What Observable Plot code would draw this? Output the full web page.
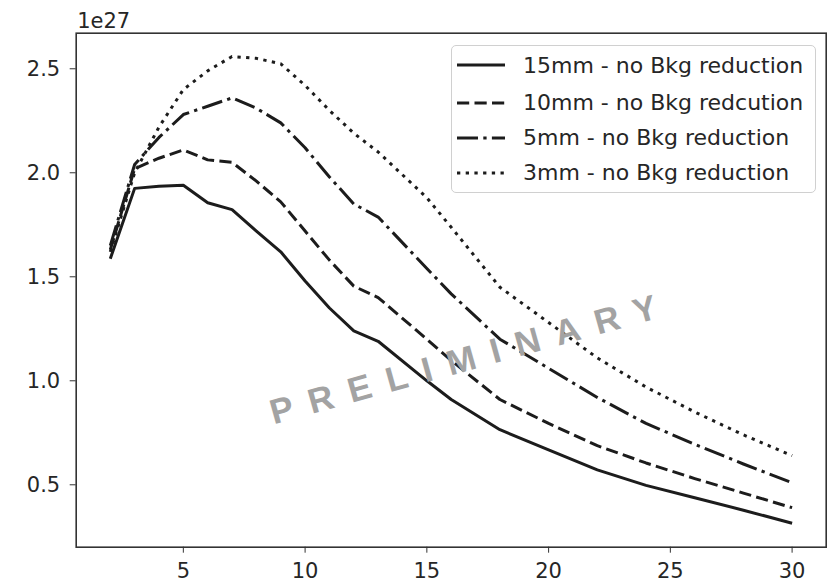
<!DOCTYPE html>
<html>
<head>
<meta charset="utf-8">
<script src="https://cdn.jsdelivr.net/npm/d3@7"></script>
<script src="https://cdn.jsdelivr.net/npm/@observablehq/plot@0.6"></script>
<style>
  html, body { margin: 0; padding: 0; background: #fff; }
  #wrap { position: relative; width: 829px; height: 585px; font-family: "DejaVu Sans", sans-serif; color: #262626; }
  .legend { position: absolute; left: 451px; top: 45px; width: 363px; height: 146px;
            border: 1px solid #d0d0d0; border-radius: 5px; background: rgba(255,255,255,0.85); }
  .legend .row { position: absolute; left: 0; height: 30px; display: flex; align-items: center; }
  .legend svg { margin-left: 5px; width: 48px; height: 10px; }
  .legend span { margin-left: 18px; font-size: 22px; white-space: nowrap; }
</style>
</head>
<body>
<div id="wrap"></div>
<script>
// Slit width scan: signal vs. distance, four collimator settings (units of 1e27)
const distance = [2, 3, 4, 5, 6, 7, 8, 9, 10, 11, 12, 13, 15, 16, 18, 20, 22, 24, 26, 28, 30];
const mm15 = [1.587, 1.925, 1.935, 1.940, 1.856, 1.823, 1.720, 1.620, 1.480, 1.350, 1.240, 1.190, 1.000, 0.910, 0.765, 0.668, 0.572, 0.497, 0.438, 0.378, 0.315];
const mm10 = [1.630, 2.020, 2.070, 2.110, 2.062, 2.050, 1.960, 1.860, 1.720, 1.580, 1.455, 1.400, 1.200, 1.098, 0.910, 0.795, 0.688, 0.605, 0.530, 0.460, 0.390];
const mm5  = [1.650, 2.040, 2.170, 2.280, 2.320, 2.360, 2.310, 2.240, 2.120, 1.980, 1.850, 1.787, 1.540, 1.418, 1.200, 1.060, 0.920, 0.795, 0.695, 0.600, 0.510];
const mm3  = [1.620, 2.000, 2.220, 2.400, 2.490, 2.559, 2.550, 2.524, 2.420, 2.300, 2.190, 2.100, 1.880, 1.738, 1.450, 1.280, 1.110, 0.970, 0.850, 0.740, 0.640];

const seriesNames = [
  "15mm - no Bkg reduction",
  "10mm - no Bkg redcution",
  "5mm - no Bkg reduction",
  "3mm - no Bkg reduction"
];
const seriesValues = [mm15, mm10, mm5, mm3];

const xTicks = [5, 10, 15, 20, 25, 30];
const yTicks = [0.5, 1.0, 1.5, 2.0, 2.5];
const offsetLabel = "1e27";
const watermark = "PRELIMINARY";

// line styles: solid, dashed, dash-dot, dotted
const dashes = [null, "12.2,5.3", "21,5.3,3.3,5.3", "3.3,5.4"];
const ink = "#1c1c1c";

const rows = seriesValues.map((vals) => distance.map((d, i) => ({x: d, y: vals[i]})));

const chart = Plot.plot({
  width: 829,
  height: 585,
  marginLeft: 75.7,
  marginRight: 3.3,
  marginTop: 32.7,
  marginBottom: 38.3,
  style: {fontFamily: "DejaVu Sans, sans-serif", color: "#262626", background: "#fff"},
  x: {domain: [0.6, 31.4]},
  y: {domain: [0.2, 2.671]},
  marks: [
    ...rows.map((r, i) => Plot.line(r, {
      x: "x", y: "y", stroke: ink, strokeWidth: 3,
      strokeDasharray: dashes[i] ?? undefined, strokeLinecap: "butt", strokeLinejoin: "round"
    })),
    Plot.text([watermark], {
      frameAnchor: "middle", dx: 20, dy: 68, rotate: -15.5,
      fontSize: 35, fontWeight: "bold", fontFamily: "Liberation Sans, Arial, sans-serif",
      fill: "#a3a3a3"
    }),
    Plot.frame({stroke: "#333", strokeWidth: 1.6}),
    Plot.axisX({ticks: xTicks, tickSize: 6, tickPadding: 10, fontSize: 21, label: null, stroke: "#333"}),
    Plot.axisY({ticks: yTicks, tickSize: 6, tickPadding: 10, fontSize: 21, label: null,
      tickFormat: d3.format(".1f"), stroke: "#333"}),
    Plot.text([offsetLabel], {frameAnchor: "top-left", textAnchor: "start", lineAnchor: "bottom",
      dx: 1, dy: -5, fontSize: 21, fill: "#262626"})
  ]
});

// spread the watermark letters apart
d3.select(chart).selectAll("text")
  .filter(function () { return this.textContent === watermark; })
  .attr("letter-spacing", "16px");

const wrap = document.getElementById("wrap");
wrap.appendChild(chart);

// legend box inside the axes, upper right
const legend = document.createElement("div");
legend.className = "legend";
const rowTops = [4, 41.5, 76.5, 111.5];
seriesNames.forEach((name, i) => {
  const row = document.createElement("div");
  row.className = "row";
  row.style.top = rowTops[i] + "px";
  const sw = d3.create("svg").attr("viewBox", "0 0 48 10");
  sw.append("line").attr("x1", 0).attr("x2", 48).attr("y1", 5).attr("y2", 5)
    .attr("stroke", ink).attr("stroke-width", 3)
    .attr("stroke-dasharray", dashes[i]);
  row.appendChild(sw.node());
  const t = document.createElement("span");
  t.textContent = name;
  row.appendChild(t);
  legend.appendChild(row);
});
wrap.appendChild(legend);
</script>
</body>
</html>
